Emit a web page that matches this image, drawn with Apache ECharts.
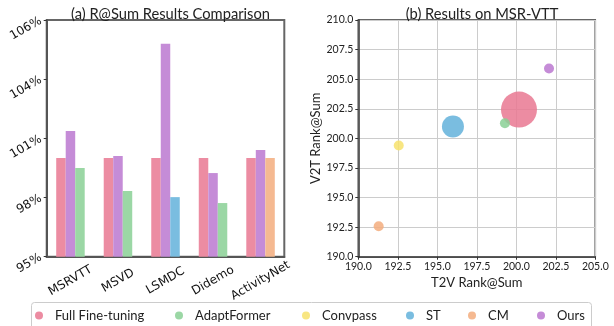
<!DOCTYPE html>
<html>
<head>
<meta charset="utf-8">
<script src="https://cdn.jsdelivr.net/npm/echarts@6/dist/echarts.min.js"></script>
<style>html,body{margin:0;padding:0;background:#fff;}#c{width:614px;height:326px;}</style>
</head>
<body>
<div id="c"></div>
<script>
// ---- Data ----
const categories = ['MSRVTT', 'MSVD', 'LSMDC', 'Didemo', 'ActivityNet'];
const fullFT = [100, 100, 100, 100, 100];
const oursVals = [101.37, 100.11, 105.8, 99.24, 100.41];
const baselineVals = [99.5, 98.33, 98.02, 97.72, 100.0];
const baselineNames = ['AdaptFormer', 'AdaptFormer', 'ST', 'AdaptFormer', 'CM'];
const yTickLabels = ['95%', '98%', '101%', '104%', '106%'];

const methods = ['Full Fine-tuning', 'AdaptFormer', 'Convpass', 'ST', 'CM', 'Ours'];
const t2v = [200.17, 199.28, 192.56, 195.99, 191.29, 202.07];
const v2t = [202.43, 201.27, 199.4, 201.0, 192.58, 205.9];
const bubbleSize = [36, 10, 10, 22, 10, 10];

// ---- Styles ----
const barColors = {
  'Full Fine-tuning': '#EC8CA2', 'AdaptFormer': '#9BD7A5', 'Convpass': '#F8E682',
  'ST': '#7ABDE0', 'CM': '#F5B991', 'Ours': '#C58CD7'
};
const dotColors = {
  'Full Fine-tuning': '#E97892', 'AdaptFormer': '#89D095', 'Convpass': '#F7E26C',
  'ST': '#63B1DB', 'CM': '#F3AD7E', 'Ours': '#BB78D0'
};
const legendX = [41, 181, 308, 412, 474, 543];

const chart = echarts.init(document.getElementById('c'), null, {renderer: 'canvas'});

const series = [
  {
    name: 'Full Fine-tuning', type: 'bar', xAxisIndex: 0, yAxisIndex: 0,
    data: fullFT, barWidth: 9.5, barGap: '0%', itemStyle: {color: barColors['Full Fine-tuning']}
  },
  {
    name: 'Ours', type: 'bar', xAxisIndex: 0, yAxisIndex: 0,
    data: oursVals, barWidth: 9.5, barGap: '0%', itemStyle: {color: barColors['Ours']}
  },
  {
    name: 'Baseline', type: 'bar', xAxisIndex: 0, yAxisIndex: 0, barWidth: 9.5, barGap: '0%',
    data: baselineVals.map((v, i) => ({value: v, itemStyle: {color: barColors[baselineNames[i]]}}))
  }
];
methods.forEach((m, i) => {
  series.push({
    name: m, type: 'scatter', xAxisIndex: 1, yAxisIndex: 1,
    data: [[t2v[i], v2t[i]]], symbolSize: bubbleSize[i],
    itemStyle: {color: dotColors[m], opacity: 0.85}, z: 3
  });
});

const legends = methods.map((m, i) => ({
  data: [m], left: legendX[i] - 11, top: 304, icon: 'circle',
  itemWidth: 22, itemHeight: 8, itemGap: 0,
  textStyle: {fontFamily: 'Lato', fontSize: 13, color: '#222', padding: [0, 0, 0, 0]},
  selectedMode: false
}));

const option = {
  animation: false,
  backgroundColor: '#fff',
  title: [
    {text: '(a) R@Sum Results Comparison', left: 165.5, textAlign: 'center', top: 2,
     textStyle: {fontFamily: 'Lato', fontSize: 14.7, fontWeight: 'normal', color: '#222'}},
    {text: '(b) Results on MSR-VTT', left: 477, textAlign: 'center', top: 2,
     textStyle: {fontFamily: 'Lato', fontSize: 14.7, fontWeight: 'normal', color: '#222'}}
  ],
  legend: legends,
  graphic: [{
    type: 'rect', shape: {x: 31.5, y: 302.5, width: 560, height: 30, r: 3},
    style: {fill: 'none', stroke: '#cccccc', lineWidth: 1}, z: -1, silent: true
  }],
  grid: [
    {left: 46.7, right: 329.7, top: 20, bottom: 69.3, show: true, borderColor: '#666', borderWidth: 2, backgroundColor: 'transparent'},
    {left: 358.3, right: 18.7, top: 20, bottom: 69.3, show: true, borderColor: '#333', borderWidth: 1.5, backgroundColor: 'transparent'}
  ],
  xAxis: [
    {
      type: 'category', gridIndex: 0, data: categories,
      axisLine: {lineStyle: {color: '#555', width: 2}},
      axisTick: {alignWithLabel: true, length: 3, lineStyle: {color: '#333'}},
      axisLabel: {rotate: 30, align: 'center', verticalAlign: 'middle', margin: 24,
        fontFamily: 'DejaVu Sans', fontSize: 12, color: '#111'}
    },
    {
      type: 'value', gridIndex: 1, min: 190, max: 205, interval: 2.5,
      name: 'T2V Rank@Sum', nameLocation: 'middle', nameGap: 17,
      nameTextStyle: {fontFamily: 'Lato', fontSize: 13, color: '#222'},
      axisLine: {onZero: false, lineStyle: {color: '#333', width: 1.5}},
      axisTick: {length: 3, lineStyle: {color: '#333'}},
      axisLabel: {formatter: v => v.toFixed(1), fontFamily: 'Lato', fontSize: 10.5, color: '#222', margin: 4},
      splitLine: {show: true, lineStyle: {color: '#cccccc', width: 1}}
    }
  ],
  yAxis: [
    {
      type: 'value', gridIndex: 0, min: 95, max: 107, interval: 3,
      axisLine: {show: true, lineStyle: {color: '#555', width: 2}},
      axisTick: {show: true, length: 3, lineStyle: {color: '#333'}},
      axisLabel: {rotate: 30, fontFamily: 'DejaVu Sans', fontSize: 12, color: '#111', margin: 6,
        formatter: v => yTickLabels[Math.round((v - 95) / 3)] || ''},
      splitLine: {show: false}
    },
    {
      type: 'value', gridIndex: 1, min: 190, max: 210, interval: 2.5,
      name: 'V2T Rank@Sum', nameLocation: 'middle', nameGap: 35, nameRotate: 90,
      nameTextStyle: {fontFamily: 'Lato', fontSize: 13, color: '#222'},
      axisLine: {show: true, onZero: false, lineStyle: {color: '#333', width: 1.5}},
      axisTick: {show: true, length: 3, lineStyle: {color: '#333'}},
      axisLabel: {formatter: v => v.toFixed(1), fontFamily: 'Lato', fontSize: 10.5, color: '#222', margin: 5},
      splitLine: {show: true, lineStyle: {color: '#cccccc', width: 1}}
    }
  ],
  series: series
};
chart.setOption(option);
</script>
</body>
</html>
